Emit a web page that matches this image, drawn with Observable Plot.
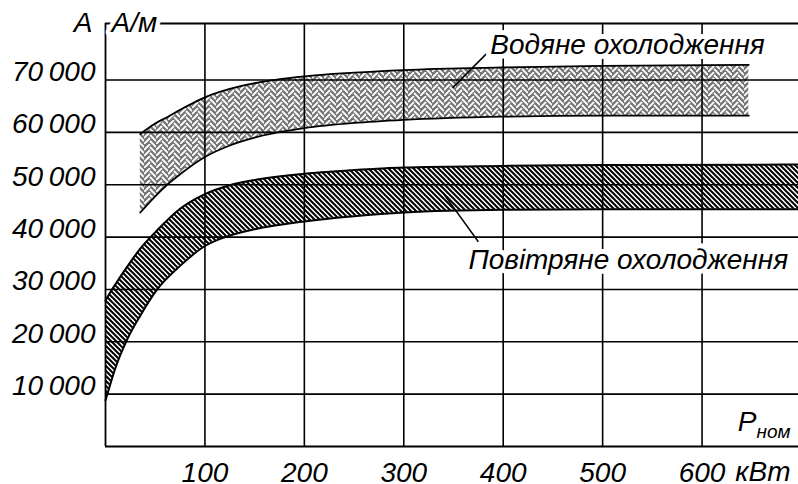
<!DOCTYPE html>
<html><head><meta charset="utf-8">
<script src="https://cdn.jsdelivr.net/npm/d3@7"></script>
<script src="https://cdn.jsdelivr.net/npm/@observablehq/plot@0.6"></script>
<style>body{margin:0;background:#fff} svg{display:block}</style>
</head><body><div id="chart"></div>
<script>
// Air cooling band (Повітряне охолодження): P, kW -> A, A/m
const airP     = [0,     5,     10,    22,    35,    52,    75,    100,   125,   150,   200,   250,   300,   400,   500,   697];
const airUpper = [27900, 29500, 31000, 34400, 37800, 41300, 45400, 48200, 49900, 50900, 52100, 52800, 53300, 53600, 53750, 53850];
const airLower = [8800,  12000, 15000, 20500, 25000, 30000, 34500, 38300, 40300, 41500, 43000, 44000, 44700, 45200, 45300, 45300];
// Water cooling band (Водяне охолодження)
const waterP     = [35,    50,    62,    75,    100,   125,   150,   200,   250,   300,   400,   500,   647];
const waterUpper = [59700, 61700, 62900, 64300, 66700, 68300, 69400, 70700, 71400, 71900, 72400, 72700, 72900];
const waterLower = [44700, 47800, 50000, 52000, 55300, 57500, 59000, 60800, 61800, 62400, 63000, 63200, 63200];

const xTicks = [100, 200, 300, 400, 500, 600];
const yTicks = [10000, 20000, 30000, 40000, 50000, 60000, 70000];
const xDomain = [0, 697];
const yDomain = [0, 80800];

const labelText = ["Водяне охолодження", "Повітряне охолодження"];
const labelP = [387, 365];
const labelA = [75000, 34000];
const leaderP1 = [349, 340], leaderA1 = [68500, 48300];
const leaderP2 = [383, 375], leaderA2 = [75000, 39100];

const air = airP.map((p, i) => ({p, lo: airLower[i], hi: airUpper[i]}));
const water = waterP.map((p, i) => ({p, lo: waterLower[i], hi: waterUpper[i]}));
const labels = labelText.map((t, i) => ({t, p: labelP[i], a: labelA[i]}));
const leaders = leaderP1.map((p, i) => ({x1: p, y1: leaderA1[i], x2: leaderP2[i], y2: leaderA2[i]}));

const fmt = d => d3.format(",")(d).replace(",", "\u2009");
const font = {fontSize: 28, fontStyle: "italic"};
const curve = "monotone-x";

const plot = Plot.plot({
  width: 798, height: 484,
  marginLeft: 105, marginRight: 0, marginTop: 23, marginBottom: 38,
  x: {domain: xDomain}, y: {domain: yDomain},
  style: {fontFamily: "'Liberation Sans', Arial, sans-serif", fontSize: "28px", fontStyle: "italic", background: "white", overflow: "visible"},
  marks: [
    Plot.areaY(water, {x: "p", y1: "lo", y2: "hi", fill: "url(#waterHatch)", curve}),
    Plot.areaY(air, {x: "p", y1: "lo", y2: "hi", fill: "url(#airHatch)", curve}),
    Plot.gridX({ticks: xTicks, stroke: "black", strokeOpacity: 1, strokeWidth: 1.6}),
    Plot.gridY({ticks: yTicks, stroke: "black", strokeOpacity: 1, strokeWidth: 1.6}),
    Plot.lineY(water, {x: "p", y: "hi", stroke: "black", strokeWidth: 1.8, curve}),
    Plot.lineY(water, {x: "p", y: "lo", stroke: "black", strokeWidth: 1.8, curve}),
    Plot.lineY(air, {x: "p", y: "hi", stroke: "black", strokeWidth: 2, curve}),
    Plot.lineY(air, {x: "p", y: "lo", stroke: "black", strokeWidth: 2, curve}),
    Plot.ruleX([xDomain[0]], {stroke: "black", strokeWidth: 1.8}),
    Plot.ruleY([yDomain[0]], {stroke: "black", strokeWidth: 1.8}),
    Plot.ruleY([yDomain[1]], {stroke: "black", strokeWidth: 1.8}),
    Plot.axisX({ticks: xTicks, tickSize: 0, tickPadding: 16, ...font, label: null}),
    Plot.axisY({ticks: yTicks, tickSize: 0, tickPadding: 10, tickFormat: fmt, dy: -8, ...font, label: null}),
    Plot.link(leaders, {x1: "x1", y1: "y1", x2: "x2", y2: "y2", stroke: "black", strokeWidth: 1.5}),
    Plot.text(labels, {x: "p", y: "a", text: "t", textAnchor: "start", lineAnchor: "bottom", fill: "black", stroke: "white", strokeWidth: 10, paintOrder: "stroke", ...font}),
    Plot.text(["A/м"], {frameAnchor: "top-left", textAnchor: "start", lineAnchor: "middle", dx: 6, fill: "black", stroke: "white", strokeWidth: 9, paintOrder: "stroke", ...font}),
    Plot.text(["A"], {frameAnchor: "top-left", textAnchor: "end", lineAnchor: "middle", dx: -13, fill: "black", ...font}),
    Plot.text(["кВт"], {frameAnchor: "bottom-right", textAnchor: "end", lineAnchor: "middle", dx: -8, dy: 26, fill: "black", ...font}),
    Plot.text(["ном"], {frameAnchor: "bottom-right", textAnchor: "end", lineAnchor: "middle", dx: -8, dy: -15, fill: "black", fontSize: 19, fontStyle: "italic"}),
    Plot.text(["P"], {frameAnchor: "bottom-right", textAnchor: "end", lineAnchor: "middle", dx: -42, dy: -24, fill: "black", ...font})
  ]
});

d3.select(plot).insert("defs", ":first-child").html(`
  <pattern id="airHatch" patternUnits="userSpaceOnUse" width="5" height="5">
    <rect width="5" height="5" fill="white"/>
    <path d="M-1,-1L6,6M-1,4L1,6M4,-1L6,1" stroke="black" stroke-width="2"/>
  </pattern>
  <pattern id="waterHatch" patternUnits="userSpaceOnUse" width="12" height="12">
    <rect width="12" height="12" fill="#777"/>
    <path d="M0,6L6,0M0,12L6,6M6,3L12,9M6,-3L12,3M6,9L12,15" stroke="white" stroke-width="1.8" fill="none"/>
  </pattern>`);

document.getElementById("chart").appendChild(plot);
</script></body></html>
